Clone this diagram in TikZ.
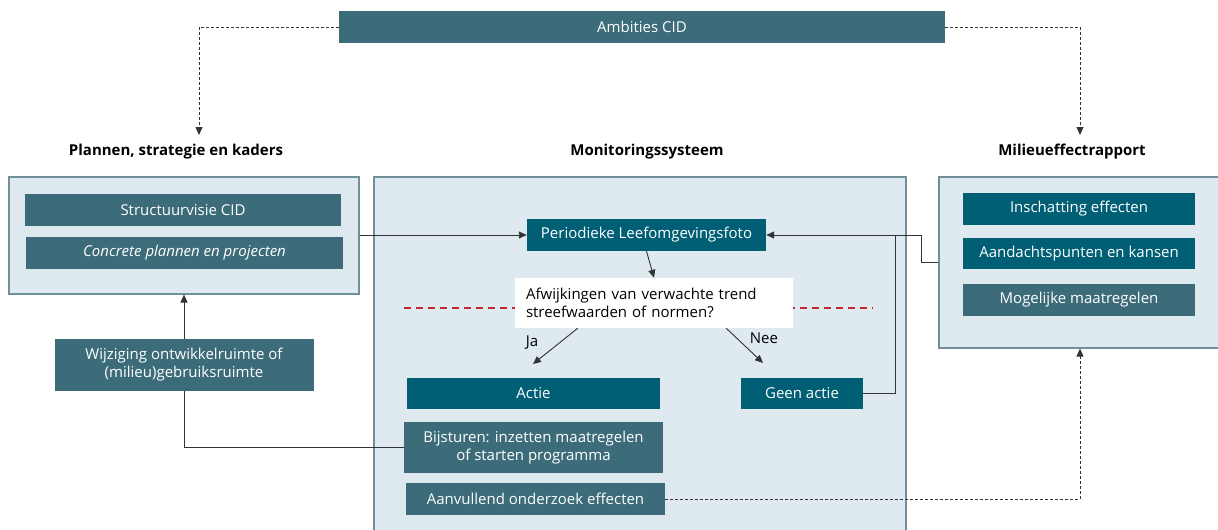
\documentclass[tikz,border=0pt]{standalone}
\usepackage{fontspec}
\setmainfont{Open Sans}
\usepackage{tikz}
\usetikzlibrary{arrows.meta,positioning,calc}

\definecolor{tealdark}{HTML}{015F75}
\definecolor{tealgray}{HTML}{3C6C7A}
\definecolor{panelfill}{HTML}{DEEAF0}
\definecolor{panelline}{HTML}{6F8F9B}
\definecolor{lijn}{HTML}{333333}
\definecolor{roodlijn}{HTML}{C0282D}

\begin{document}
\begin{tikzpicture}[x=1pt, y=-1pt,
    font=\fontsize{15}{18}\selectfont,
    panel/.style={draw=panelline, line width=1.2pt, fill=panelfill, inner sep=0pt},
    vak/.style={fill=tealgray, text=white, inner sep=0pt, align=center},
    vakdonker/.style={vak, fill=tealdark},
    titel/.style={font=\fontsize{15}{18}\selectfont\bfseries},
    pijl/.style={draw=lijn, line width=0.9pt, -{Triangle[length=8pt,width=7pt]}},
    streep/.style={draw=lijn, line width=0.8pt, dash pattern=on 3pt off 2pt, -{Triangle[length=8pt,width=7pt]}}]
    \useasboundingbox (0,0) rectangle (1218,530);

    % Ambities bovenaan
    \node[vak, minimum width=606pt, minimum height=32pt] (ambities) at (642,27) {Ambities CID};

    % Titels
    \node[titel] (titelplannen) at (176,152) {Plannen, strategie en kaders};
    \node[titel] (titelmonitoring) at (647,152) {Monitoringssysteem};
    \node[titel] (titelmer) at (1072,152) {Milieueffectrapport};

    % Panelen
    \node[panel, minimum width=350pt, minimum height=117pt] (plannen) at (184,235.5) {};
    \node[panel, minimum width=532pt, minimum height=363pt] (monitoring) at (640,358.5) {};
    \node[panel, minimum width=286pt, minimum height=171pt] (mer) at (1082,262.5) {};

    % Plannen, strategie en kaders
    \node[vak, minimum width=316pt, minimum height=32pt] (structuurvisie) at (183,210) {Structuurvisie CID};
    \node[vak, minimum width=317pt, minimum height=32pt] (concreet) at (184.5,253) {\itshape Concrete plannen en projecten};
    \node[vak, minimum width=259pt, minimum height=52pt] (wijziging) at (184,365) {Wijziging ontwikkelruimte of\\(milieu)gebruiksruimte};

    % Monitoringssysteem
    \draw[roodlijn, line width=1.4pt, dash pattern=on 7pt off 5pt] (404,308) -- (873,308);
    \node[vakdonker, minimum width=239pt, minimum height=32pt] (foto) at (646.5,235) {Periodieke Leefomgevingsfoto};
    \node[fill=white, text width=256pt, inner xsep=11pt, inner ysep=0pt, minimum height=50pt, align=left] (vraag) at (654,303)
        {Afwijkingen van verwachte trend\\streefwaarden of normen?};
    \node[vakdonker, minimum width=253pt, minimum height=31pt] (actie) at (533.5,393.5) {Actie};
    \node[vakdonker, minimum width=122pt, minimum height=31pt] (geenactie) at (802,393.5) {Geen actie};
    \node[vak, minimum width=259pt, minimum height=51pt] (bijsturen) at (533.5,447.5) {Bijsturen: inzetten maatregelen\\of starten programma};
    \node[vak, minimum width=259pt, minimum height=32pt] (onderzoek) at (535.5,499) {Aanvullend onderzoek effecten};
    \node (ja) at (532,343) {Ja};
    \node (nee) at (764,338) {Nee};

    % Milieueffectrapport
    \node[vakdonker, minimum width=232pt, minimum height=32pt] (inschatting) at (1079,209) {Inschatting effecten};
    \node[vakdonker, minimum width=232pt, minimum height=31pt] (aandacht) at (1079,253.5) {Aandachtspunten en kansen};
    \node[vak, minimum width=232pt, minimum height=32pt] (maatregelen) at (1079,300) {Mogelijke maatregelen};

    % Hulppunten
    \coordinate (pijlplannen) at (199,135);
    \coordinate (pijlmer) at (1080,135);
    \coordinate (knikmer) at (921,262.5);
    \coordinate (knikgeen) at (895,235);
    \coordinate (punja) at (533,364);
    \coordinate (puntnee) at (763,363);

    % Verbindingen
    \draw[streep] (ambities.west) -| (pijlplannen);
    \draw[streep] (ambities.east) -| (pijlmer);
    \draw[pijl] (plannen.east |- foto) -- (foto.west);
    \draw[pijl] (mer.west) -- (knikmer) |- (foto.east);
    \draw[draw=lijn, line width=0.9pt] (geenactie.east) -| (knikgeen);
    \draw[pijl] (foto.south) -- (vraag.north);
    \draw[pijl] ($(vraag.south west)+(63,0)$) -- (punja);
    \draw[pijl] ($(vraag.south east)+(-67,0)$) -- (puntnee);
    \draw[draw=lijn, line width=0.9pt] (bijsturen.west) -| (wijziging.south);
    \draw[pijl] (wijziging.north) -- (plannen.south);
    \draw[streep] (onderzoek.east) -| (mer.south -| pijlmer);
\end{tikzpicture}
\end{document}
